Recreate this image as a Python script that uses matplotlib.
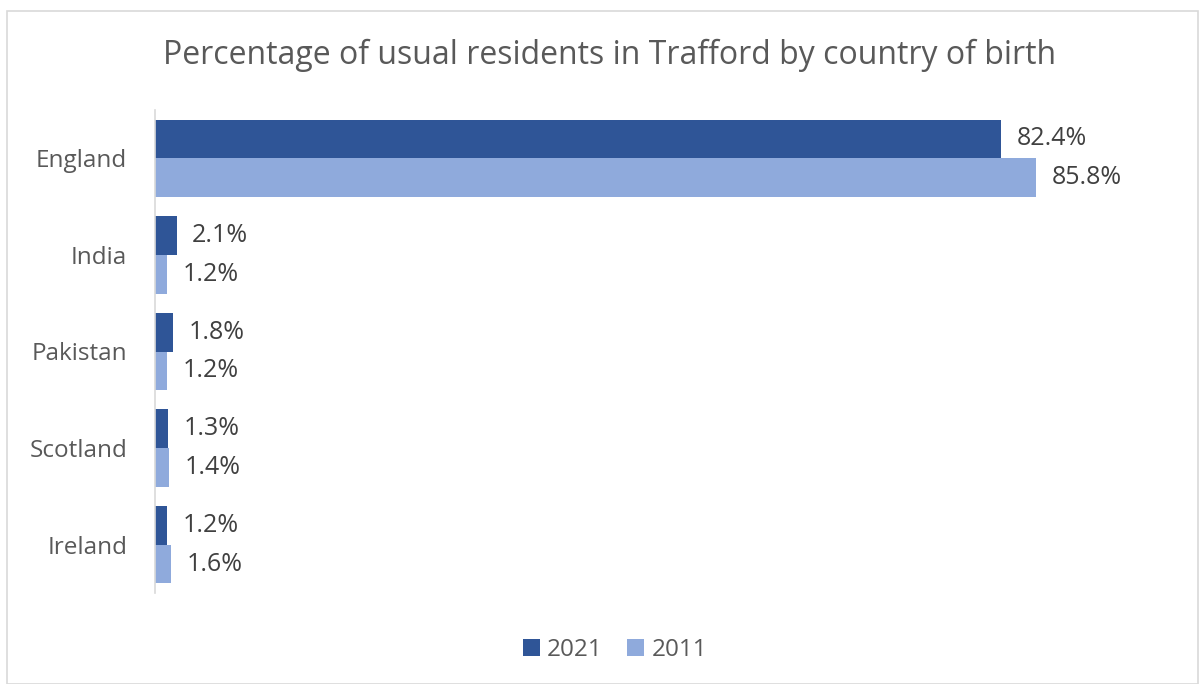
import numpy as np
import matplotlib.pyplot as plt
from matplotlib.patches import Rectangle

plt.rcParams['font.family'] = ['Open Sans', 'DejaVu Sans']

countries = ['England', 'India', 'Pakistan', 'Scotland', 'Ireland']
pct_2021 = [82.4, 2.1, 1.8, 1.3, 1.2]
pct_2011 = [85.8, 1.2, 1.2, 1.4, 1.6]
years = ['2021', '2011']
colors = ['#2F5597', '#8FAADC']

W, H = 1200, 684
fig = plt.figure(figsize=(W / 100, H / 100), dpi=100)

# light frame round the chart area
fig.patches.append(Rectangle((7 / W, 0), (1191 / W), 1 - 11 / H, transform=fig.transFigure,
                             fill=False, edgecolor='#D9D9D9', linewidth=1.2))

ax = fig.add_axes([155 / W, 1 - 593 / H, (1182 - 155) / W, (593 - 110) / H])

y = np.arange(len(countries))
h = 0.4
bars_new = ax.barh(y - h / 2, pct_2021, height=h, color=colors[0], label=years[0])
bars_old = ax.barh(y + h / 2, pct_2011, height=h, color=colors[1], label=years[1])

for bars, vals in [(bars_new, pct_2021), (bars_old, pct_2011)]:
    for b, v in zip(bars, vals):
        ax.annotate(f'{v:.1f}%', (b.get_width(), b.get_y() + b.get_height() / 2),
                    xytext=(11, 0), textcoords='offset points', va='center', ha='left',
                    fontsize=18, color='#404040')

ax.set_xlim(0, 100)
ax.set_ylim(len(countries) - 0.5, -0.5)
ax.set_yticks(y)
ax.set_yticklabels(countries, fontsize=17.5, color='#595959')
ax.tick_params(axis='y', length=0, pad=20)
ax.set_xticks([])
for side in ['top', 'right', 'bottom']:
    ax.spines[side].set_visible(False)
ax.spines['left'].set_color('#D9D9D9')
ax.spines['left'].set_linewidth(1.2)

fig.text(610 / W, 1 - 55 / H, 'Percentage of usual residents in Trafford by country of birth',
         ha='center', va='center', fontsize=23, color='#595959')

fig.legend(loc='center', bbox_to_anchor=(615 / W, 1 - 650 / H), ncol=2, frameon=False,
           fontsize=17.5, labelcolor='#595959', handlelength=0.7, handleheight=0.7,
           handletextpad=0.3, columnspacing=1.0)

fig.savefig('out.png', dpi=100)
